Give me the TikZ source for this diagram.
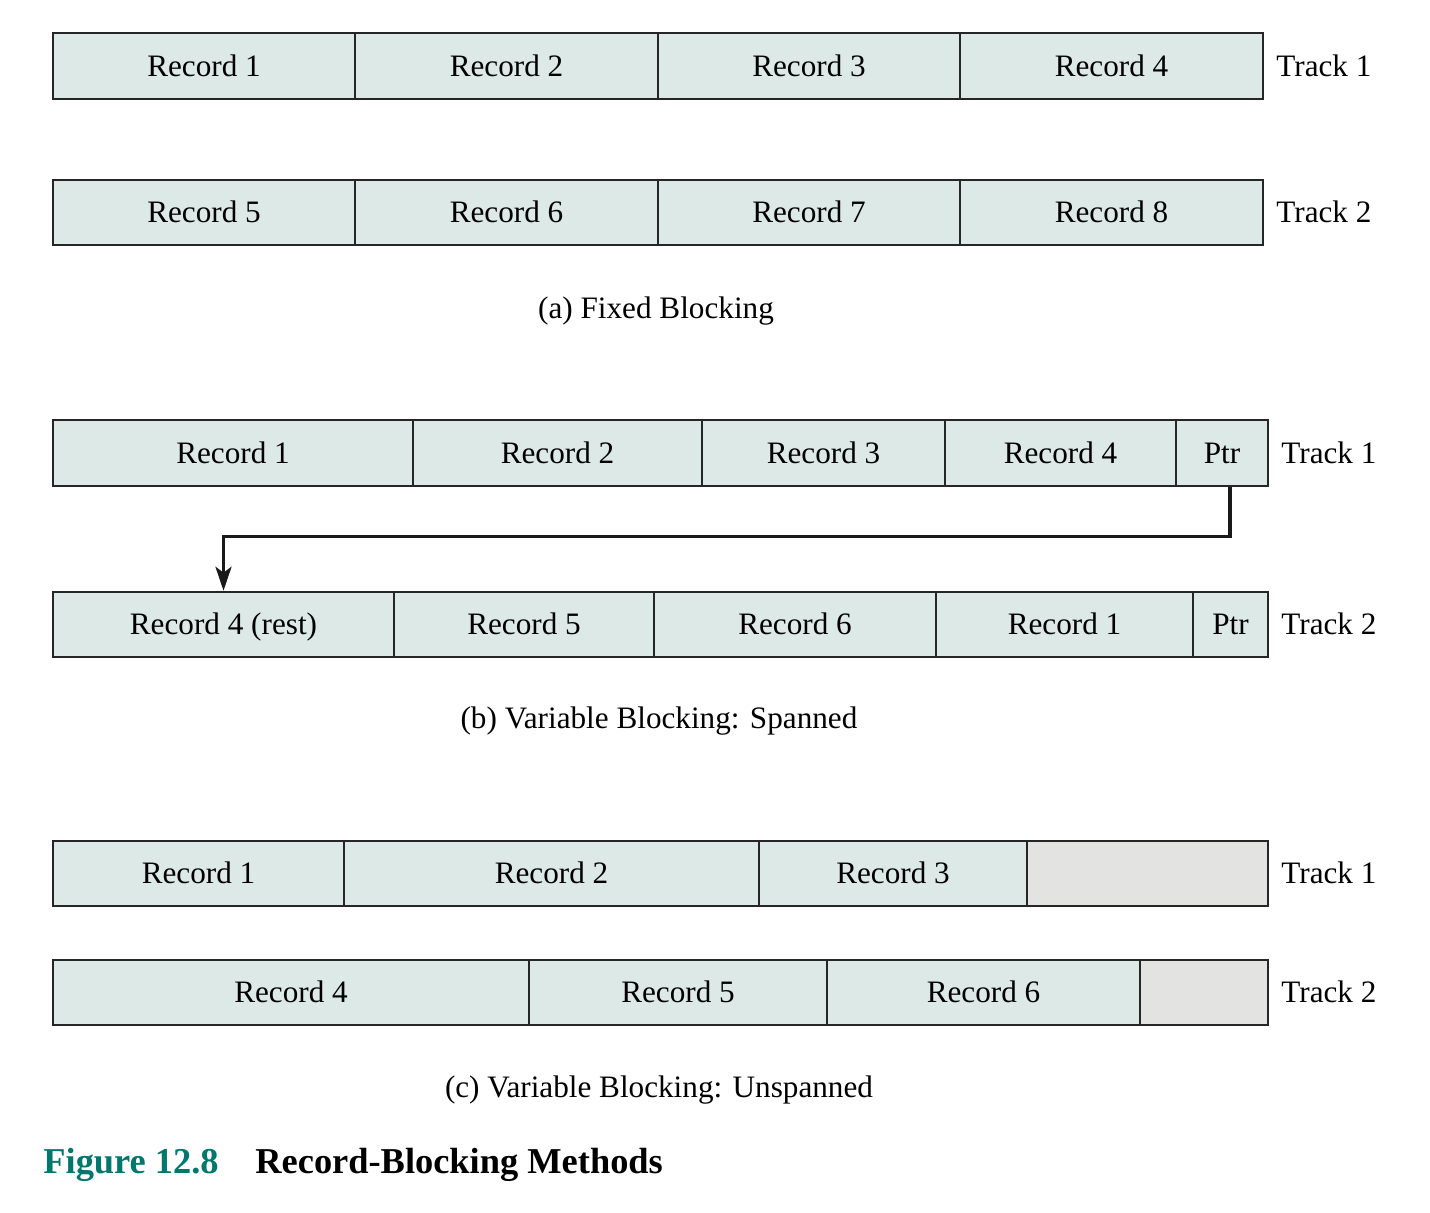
\documentclass[tikz,border=0pt]{standalone}
\usepackage{fontspec}
\setmainfont{Liberation Serif}
\usetikzlibrary{positioning,arrows.meta}
\definecolor{recfill}{HTML}{DDE9E7}
\definecolor{gapfill}{HTML}{E3E3E2}
\definecolor{figteal}{HTML}{00786C}
\tikzset{
  rec/.style={draw=black!85, line width=1pt, fill=recfill, minimum height=32.75pt,
              inner sep=0pt, anchor=west, text height=10.4pt, text depth=0pt,
              font=\fontsize{15.6}{18}\selectfont},
  gap/.style={rec, fill=gapfill},
  trk/.style={inner sep=0pt, text height=10.4pt, text depth=0pt, font=\fontsize{15.6}{18}\selectfont},
  capt/.style={inner sep=0pt, text height=10.4pt, text depth=0pt, font=\fontsize{15.6}{18}\selectfont},
  ptr/.style={line width=1.7pt, black!90, -{Stealth[length=12pt,width=8pt,inset=3pt]}}
}
\begin{document}
\begin{tikzpicture}[x=0.5pt,y=-0.5pt]
  \useasboundingbox (0,0) rectangle (1430,1212);
  % (a) fixed blocking
  \foreach \a/\b/\t/\n in {52/354/Record 1/a1,354/657/Record 2/a2,657/959/Record 3/a3,959/1262/Record 4/a4}
    \node[rec, minimum width=(\b-\a)*0.5pt] (\n) at (\a,66) {\t};
  \foreach \a/\b/\t/\n in {52/354/Record 5/a5,354/657/Record 6/a6,657/959/Record 7/a7,959/1262/Record 8/a8}
    \node[rec, minimum width=(\b-\a)*0.5pt] (\n) at (\a,212.5) {\t};
  \node[trk, anchor=west, right=6pt of a4] (ta1) {Track 1};
  \node[trk, anchor=west, right=6pt of a8] (ta2) {Track 2};
  \node[capt] (capa) at (656,308) {(a) Fixed Blocking};
  % (b) variable blocking: spanned
  \foreach \a/\b/\t/\n in {52/412/Record 1/b1,412/701/Record 2/b2,701/944/Record 3/b3,944/1175/Record 4/b4,1175/1267/Ptr/b5}
    \node[rec, minimum width=(\b-\a)*0.5pt] (\n) at (\a,453) {\t};
  \foreach \a/\b/\t/\n in {52/393/Record 4 (rest)/c1,393/653/Record 5/c2,653/935/Record 6/c3,935/1192/Record 1/c4,1192/1267/Ptr/c5}
    \node[rec, minimum width=(\b-\a)*0.5pt] (\n) at (\a,624.5) {\t};
  \node[trk, right=6pt of b5] (tb1) {Track 1};
  \node[trk, right=6pt of c5] (tb2) {Track 2};
  \draw[ptr] ([xshift=4pt]b5.south) -- ++(0,50) -| (c1.north);
  \node[capt] (capb) at (659,718) {(b) Variable Blocking: Spanned};
  % (c) variable blocking: unspanned
  \foreach \a/\b/\t/\n in {52/343/Record 1/d1,343/758/Record 2/d2,758/1026/Record 3/d3}
    \node[rec, minimum width=(\b-\a)*0.5pt] (\n) at (\a,873.5) {\t};
  \node[gap, minimum width=120.5pt] (d4) at (1026,873.5) {};
  \foreach \a/\b/\t/\n in {52/528/Record 4/e1,528/826/Record 5/e2,826/1139/Record 6/e3}
    \node[rec, minimum width=(\b-\a)*0.5pt] (\n) at (\a,992.5) {\t};
  \node[gap, minimum width=64pt] (e4) at (1139,992.5) {};
  \node[trk, right=6pt of d4] (tc1) {Track 1};
  \node[trk, right=6pt of e4] (tc2) {Track 2};
  \node[capt] (capc) at (659,1087) {(c) Variable Blocking: Unspanned};
  % figure title
  \node[inner sep=0pt, anchor=west, text height=12pt, text depth=0pt,
        font=\fontsize{18.2}{21}\selectfont\bfseries, text=figteal] (fig) at (43,1161) {Figure 12.8};
  \node[inner sep=0pt, anchor=west, text height=12pt, text depth=0pt,
        font=\fontsize{18.2}{21}\selectfont\bfseries] (title) at (255,1161) {Record-Blocking Methods};
\end{tikzpicture}
\end{document}
